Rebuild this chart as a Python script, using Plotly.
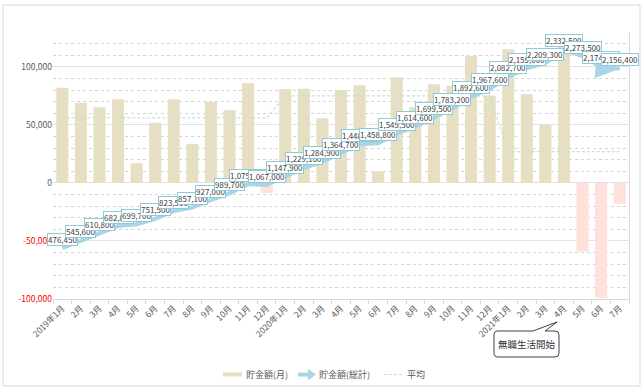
import plotly.graph_objects as go

# ---------------- data ----------------
x_labels = ["2019年1月", "2月", "3月", "4月", "5月", "6月", "7月", "8月", "9月", "10月", "11月", "12月",
            "2020年1月", "2月", "3月", "4月", "5月", "6月", "7月", "8月", "9月", "10月", "11月", "12月",
            "2021年1月", "2月", "3月", "4月", "5月", "6月", "7月"]

monthly = [82000, 69150, 65200, 72000, 16900, 51800, 72000, 33600, 69900, 62700, 86000, -8700,
           80900, 81200, 55800, 79800, 84100, 10000, 90700, 65100, 84900, 83700, 109400, 75000,
           115100, 76300, 50300, 123200, -59000, -99000, -18100]

total = [476450, 545600, 610800, 682800, 699700, 751500, 823500, 857100, 927000, 989700, 1075700, 1067000,
         1147900, 1229100, 1284900, 1364700, 1448800, 1458800, 1549500, 1614600, 1699500, 1783200, 1892600, 1967600,
         2082700, 2159000, 2209300, 2332500, 2273500, 2174500, 2156400]

average = [56046, 56046, 56046, 56046, 56046, 56046, 56046, 56046, 56046, 56046, 56046, 56046,
           75050, 75050, 75050, 75050, 75050, 75050, 75050, 75050, 75050, 75050, 75050, 75050,
           26971, 26971, 26971, 26971, 26971, 26971, 26971]

y_tick_vals = [-100000, -50000, 0, 50000, 100000]
y_tick_text = ['<span style="color:#ff0000">-100,000</span>', '<span style="color:#ff0000">-50,000</span>',
               "0", "50,000", "100,000"]

legend_names = ["貯金額(月)", "貯金額(総計)", "平均"]
callout_text = "無職生活開始"

# ---------------- styling ----------------
FONT = "Noto Sans CJK JP, sans-serif"
POS_COLOR = "#e6dfc4"
NEG_COLOR = "#fde1da"
LINE_COLOR = "#a9d6e6"
AVG_COLOR = "#bfe6cf"
GRID = "#e2e2e2"
TEXT = "#595959"

W, H = 644, 392
L, R, T, B = 53, 629, 32, 299  # plot area in pixels


def px(xp):
    return (xp - L) / (R - L)


def py(yp):
    return (B - yp) / (B - T)


idx = list(range(len(x_labels)))

fig = go.Figure()
fig.add_trace(go.Bar(
    x=idx, y=monthly, width=0.65,
    marker=dict(color=[POS_COLOR if v >= 0 else NEG_COLOR for v in monthly], line=dict(width=0)),
    name=legend_names[0], hoverinfo="skip"))
fig.add_trace(go.Scatter(
    x=idx, y=average, mode="lines", name=legend_names[2],
    line=dict(color=AVG_COLOR, width=1.2, dash="3px,2px"), hoverinfo="skip"))
fig.add_trace(go.Scatter(
    x=idx, y=total, mode="lines", yaxis="y2", name=legend_names[1],
    line=dict(color=LINE_COLOR, width=4), hoverinfo="skip"))

annotations = []
# arrow head at the end of total line
annotations.append(dict(x=idx[-1], y=total[-1], xref="x", yref="y2",
                        ax=idx[-2], ay=total[-2], axref="x", ayref="y2",
                        showarrow=True, arrowhead=2, arrowsize=1.2, arrowwidth=4,
                        arrowcolor=LINE_COLOR, text=""))
# data labels
for i, v in zip(idx, total):
    annotations.append(dict(x=i, y=v, xref="x", yref="y2", yshift=9, showarrow=False,
                            text=f"{v:,}", font=dict(family=FONT, size=8, color="#404040"),
                            bgcolor="white", bordercolor="#8ccbdc", borderwidth=1, borderpad=0))

shapes = []
# outer border
shapes.append(dict(type="rect", xref="paper", yref="paper",
                   x0=px(3), x1=px(640), y0=py(386), y1=py(5),
                   line=dict(color="#d9d9d9", width=1), layer="below"))

# legend
ly = 374.5
shapes.append(dict(type="rect", xref="paper", yref="paper",
                   x0=px(223), x1=px(242), y0=py(ly + 2), y1=py(ly - 2),
                   fillcolor=POS_COLOR, line=dict(width=0)))
annotations.append(dict(x=px(244), y=py(ly), xref="paper", yref="paper", xanchor="left",
                        yanchor="middle", showarrow=False, text=legend_names[0],
                        font=dict(family=FONT, size=9, color=TEXT)))
arrow_pts = [(298, ly - 2), (308, ly - 2), (308, ly - 6), (316, ly), (308, ly + 6), (308, ly + 2), (298, ly + 2)]
path = "M " + " L ".join(f"{px(a):.5f},{py(b):.5f}" for a, b in arrow_pts) + " Z"
shapes.append(dict(type="path", xref="paper", yref="paper", path=path,
                   fillcolor=LINE_COLOR, line=dict(width=0)))
annotations.append(dict(x=px(317), y=py(ly), xref="paper", yref="paper", xanchor="left",
                        yanchor="middle", showarrow=False, text=legend_names[1],
                        font=dict(family=FONT, size=9, color=TEXT)))
shapes.append(dict(type="line", xref="paper", yref="paper",
                   x0=px(384), x1=px(404), y0=py(ly), y1=py(ly),
                   line=dict(color=AVG_COLOR, width=1, dash="3px,2px")))
annotations.append(dict(x=px(405), y=py(ly), xref="paper", yref="paper", xanchor="left",
                        yanchor="middle", showarrow=False, text=legend_names[2],
                        font=dict(family=FONT, size=9, color=TEXT)))

# callout bubble
bx0, bx1, by0, by1, r = 494, 559, 331, 357, 4


def P(a, b):
    return f"{px(a):.5f},{py(b):.5f}"


cpath = (f"M {P(bx0 + r, by0)} L {P(533, by0)} L {P(557, 322)} L {P(545, by0)} L {P(bx1 - r, by0)} "
         f"Q {P(bx1, by0)} {P(bx1, by0 + r)} L {P(bx1, by1 - r)} Q {P(bx1, by1)} {P(bx1 - r, by1)} "
         f"L {P(bx0 + r, by1)} Q {P(bx0, by1)} {P(bx0, by1 - r)} L {P(bx0, by0 + r)} "
         f"Q {P(bx0, by0)} {P(bx0 + r, by0)} Z")
shapes.append(dict(type="path", xref="paper", yref="paper", path=cpath,
                   fillcolor="white", line=dict(color="#404040", width=1)))
annotations.append(dict(x=px((bx0 + bx1) / 2), y=py((by0 + by1) / 2), xref="paper", yref="paper",
                        xanchor="center", yanchor="middle", showarrow=False, text=callout_text,
                        font=dict(family=FONT, size=9.5, color="#333333")))

fig.update_layout(
    width=W, height=H,
    margin=dict(l=L, r=W - R, t=T, b=H - B, pad=0),
    paper_bgcolor="white", plot_bgcolor="white",
    showlegend=False, bargap=0.35,
    font=dict(family=FONT, size=8.5, color=TEXT),
    xaxis=dict(range=[-0.5, len(idx) - 0.5], tickmode="array", tickvals=idx, ticktext=x_labels,
               tickangle=-45, showgrid=False, zeroline=False, showline=True, linecolor="#d9d9d9",
               ticks="", tickfont=dict(family=FONT, size=8.5, color=TEXT),
               minor=dict(tick0=0.5, dtick=1, ticks="outside", ticklen=4, tickcolor="#d9d9d9",
                          showgrid=False)),
    yaxis=dict(range=[-100000, 130000], tickmode="array", tickvals=y_tick_vals, ticktext=y_tick_text,
               showgrid=True, gridcolor=GRID, gridwidth=1, zeroline=True, zerolinecolor=GRID,
               zerolinewidth=1, showline=False, ticks="",
               tickfont=dict(family=FONT, size=8.5, color=TEXT),
               minor=dict(dtick=10000, tick0=0, showgrid=True, gridcolor="#d4d4d4", griddash="dot",
                          gridwidth=1)),
    yaxis2=dict(range=[0, 2500000], overlaying="y", side="right", showgrid=False, zeroline=False,
                showticklabels=False, showline=True, linecolor="#d9d9d9", ticks=""),
    annotations=annotations, shapes=shapes,
)

fig.write_html("out.html", config={"displayModeBar": False},
               post_script="document.body.style.margin='0';")
